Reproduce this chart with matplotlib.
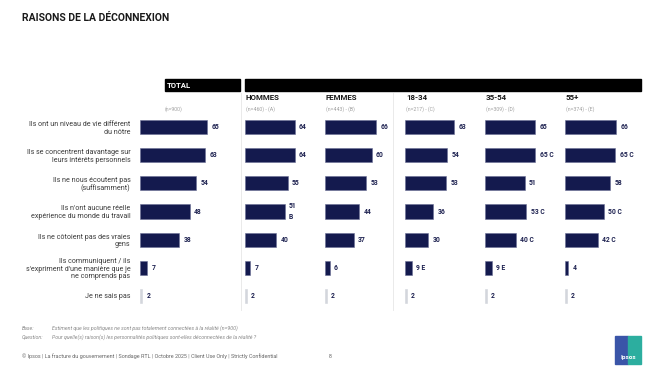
import matplotlib.pyplot as plt
from matplotlib.patches import Rectangle

plt.rcParams['font.family'] = ['Roboto', 'DejaVu Sans']

# Data
rows = [
    "Ils ont un niveau de vie différent\ndu nôtre",
    "Ils se concentrent davantage sur\nleurs intérêts personnels",
    "Ils ne nous écoutent pas\n(suffisamment)",
    "Ils n'ont aucune réelle\nexpérience du monde du travail",
    "Ils ne côtoient pas des vraies\ngens",
    "Ils communiquent / ils\ns'expriment d'une manière que je\nne comprends pas",
    "Je ne sais pas",
]
total = [65, 63, 54, 48, 38, 7, 2]
hommes = [64, 64, 55, 51, 40, 7, 2]
femmes = [66, 60, 53, 44, 37, 6, 2]
age_18_34 = [63, 54, 53, 36, 30, 9, 2]
age_35_54 = [65, 65, 51, 53, 40, 9, 2]
age_55p = [66, 65, 58, 50, 42, 4, 2]

# significance letters (genre letter sits under the value)
sig_total = ["", "", "", "", "", "", ""]
sig_hommes = ["", "", "", "\nB", "", "", ""]
sig_femmes = ["", "", "", "", "", "", ""]
sig_18_34 = ["", "", "", "", "", " E", ""]
sig_35_54 = ["", " C", "", " C", " C", " E", ""]
sig_55p = ["", " C", "", " C", " C", "", ""]

group_names = ["HOMMES", "FEMMES", "18-34", "35-54", "55+"]
group_n = ["(n=460) - (A)", "(n=443) - (B)", "(n=217) - (C)", "(n=309) - (D)", "(n=374) - (E)"]
group_vals = [hommes, femmes, age_18_34, age_35_54, age_55p]
group_sig = [sig_hommes, sig_femmes, sig_18_34, sig_35_54, sig_55p]

W, H = 664, 369
NAVY = '#141a4e'
GREY_BAR = '#d3d6dc'

fig = plt.figure(figsize=(W / 100, H / 100), dpi=100)


def fx(x):
    return x / W


def fy(y):
    return 1 - y / H


def px_axes(left, top, width, height):
    return fig.add_axes([fx(left), fy(top + height), width / W, height / H])


def draw_bars(ax, vals, sig, xmax):
    colors = [NAVY] * (len(vals) - 1) + [GREY_BAR]
    edges = ['#6a6f95'] * (len(vals) - 1) + [GREY_BAR]
    bars = ax.barh(range(len(vals)), vals, height=0.5, color=colors,
                   edgecolor=edges, linewidth=0.4)
    labels = [f"{v}{s}" for v, s in zip(vals, sig)]
    ax.bar_label(bars, labels=labels, padding=3.2, fontsize=4.9,
                 fontweight='bold', color='#1d2150', linespacing=1.5)
    ax.set_xlim(0, xmax)
    ax.set_ylim(len(vals) - 0.5, -0.5)
    ax.set_xticks([])
    for s in ax.spines.values():
        s.set_visible(False)
    ax.patch.set_alpha(0)


# Title
fig.text(fx(22), fy(18), "RAISONS DE LA DÉCONNEXION", fontsize=7.5, fontweight='bold',
         color='#1a1a1a', va='center', ha='left')

# Header bars
fig.patches.append(Rectangle((fx(165), fy(91)), (240 - 165) / W, 12 / H,
                             transform=fig.transFigure, color='black'))
fig.patches.append(Rectangle((fx(245), fy(91)), (641 - 245) / W, 12 / H,
                             transform=fig.transFigure, color='black'))
fig.text(fx(167), fy(85), "TOTAL", fontsize=5.6, fontweight='bold', color='white',
         va='center', ha='left')
fig.text(fx(165), fy(109), "(n=900)", fontsize=3.7, color='#a0a0a0', va='center')

# separators
for x in (241, 393):
    fig.add_artist(plt.Line2D([fx(x), fx(x)], [fy(93), fy(310)], color='#e6e6e6',
                              linewidth=0.6, transform=fig.transFigure))

top, height = 113, 197

# Total column
ax_t = px_axes(140, top, 90, height)
draw_bars(ax_t, total, sig_total, 90 / 1.035)
ax_t.set_yticks(range(len(rows)))
ax_t.set_yticklabels(rows, fontsize=5.1, color='#3a3a3a', linespacing=1.1)
ax_t.tick_params(axis='y', length=0, pad=7)

# Group columns
for i, (name, n, vals, sig) in enumerate(zip(group_names, group_n, group_vals, group_sig)):
    left = 245 + 80 * i
    fig.text(fx(left + 1), fy(98), name, fontsize=5.7, fontweight='bold',
             color='#1a1a1a', va='center', ha='left')
    fig.text(fx(left + 1), fy(109), n, fontsize=3.7, color='#a0a0a0', va='center')
    ax = px_axes(left, top, 75, height)
    draw_bars(ax, vals, sig, 75 / 0.775)
    ax.set_yticks([])

# Footer notes
grey = '#8a8a8a'
fig.text(fx(22), fy(328), "Base:", fontsize=3.8, color=grey, style='italic', va='center')
fig.text(fx(52), fy(328),
         "Estiment que les politiques ne sont pas totalement connectées à la réalité (n=900)",
         fontsize=3.8, color=grey, style='italic', va='center')
fig.text(fx(22), fy(337), "Question:", fontsize=3.8, color=grey, style='italic', va='center')
fig.text(fx(52), fy(337),
         "Pour quelle(s) raison(s) les personnalités politiques sont-elles déconnectées de la réalité ?",
         fontsize=3.8, color=grey, style='italic', va='center')
fig.text(fx(22), fy(356),
         "© Ipsos | La fracture du gouvernement | Sondage RTL | Octobre 2025 | "
         "Client Use Only | Strictly Confidential",
         fontsize=3.9, color='#666666', va='center')
fig.text(fx(329), fy(356), "8", fontsize=3.9, color='#666666', va='center')

# Ipsos logo
fig.patches.append(Rectangle((fx(615), fy(364)), 13 / W, 28 / H,
                             transform=fig.transFigure, color='#3a55a8'))
fig.patches.append(Rectangle((fx(628), fy(364)), 13 / W, 28 / H,
                             transform=fig.transFigure, color='#2cae9f'))
fig.text(fx(628), fy(357), "Ipsos", fontsize=4.6, fontweight='bold', color='white',
         ha='center', va='center')

fig.savefig('out.png', dpi=100, facecolor='white')
